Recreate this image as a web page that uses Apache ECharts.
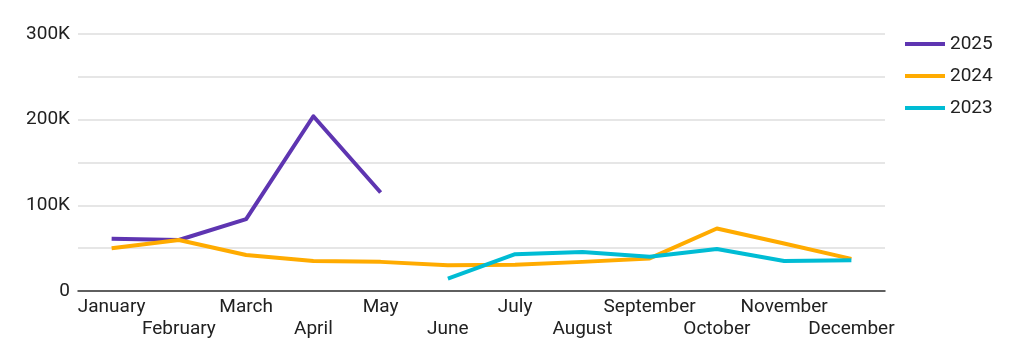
<!DOCTYPE html>
<html>
<head>
<meta charset="utf-8">
<script src="https://cdn.jsdelivr.net/npm/echarts@6/dist/echarts.min.js"></script>
<style>
html,body{margin:0;padding:0;background:#fff;}
#chart{width:1024px;height:356px;}
</style>
</head>
<body>
<div id="chart"></div>
<script>
const months = ['January','February','March','April','May','June','July','August','September','October','November','December'];
const seriesNames = ['2025','2024','2023'];
const values2025 = [61000, 59500, 84000, 204000, 115000, null, null, null, null, null, null, null];
const values2024 = [50000, 59500, 42000, 35000, 34000, 30000, 30500, 34000, 38000, 73000, 55500, 37500];
const values2023 = [null, null, null, null, null, 14500, 43000, 45500, 40000, 49000, 35000, 36000];
const yTicks = [0, 100000, 200000, 300000];
const colors = ['#5e35b1', '#ffab00', '#00bcd4'];

const chart = echarts.init(document.getElementById('chart'), null, {renderer: 'canvas'});
const font = 'Roboto';
function mk(name, data, color, z) {
  return {
    name: name, type: 'line', data: data, z: z,
    showSymbol: false, symbol: 'none', connectNulls: false,
    lineStyle: {color: color, width: 4, join: 'round'},
    itemStyle: {color: color},
    emphasis: {disabled: true}
  };
}
chart.setOption({
  animation: false,
  textStyle: {fontFamily: font},
  grid: {left: 78, right: 139, top: 34, bottom: 65, containLabel: false},
  legend: {
    orient: 'vertical', left: 900, top: 29,
    data: seriesNames,
    icon: 'rect', itemWidth: 40, itemHeight: 4, itemGap: 12,
    textStyle: {fontFamily: font, fontSize: 19, color: '#212121', lineHeight: 20}
  },
  xAxis: {
    type: 'category', data: months, boundaryGap: true,
    axisLine: {show: true, lineStyle: {color: '#333', width: 1.5}},
    axisTick: {show: false},
    axisLabel: {
      interval: 0, margin: 5, fontFamily: font, fontSize: 19, color: '#212121', lineHeight: 22,
      formatter: function (v, i) { return i % 2 === 1 ? '\n' + v : v; }
    }
  },
  yAxis: {
    type: 'value', min: 0, max: 300000, interval: 50000,
    axisLine: {show: false}, axisTick: {show: false},
    splitLine: {lineStyle: {color: '#dedede', width: 1.5}},
    axisLabel: {
      margin: 8, fontFamily: font, fontSize: 19, color: '#212121',
      formatter: function (v) {
        if (yTicks.indexOf(v) < 0) return '';
        return v === 0 ? '0' : (v / 1000) + 'K';
      }
    }
  },
  series: [
    mk(seriesNames[0], values2025, colors[0], 2),
    mk(seriesNames[1], values2024, colors[1], 3),
    mk(seriesNames[2], values2023, colors[2], 4)
  ]
});
</script>
</body>
</html>
